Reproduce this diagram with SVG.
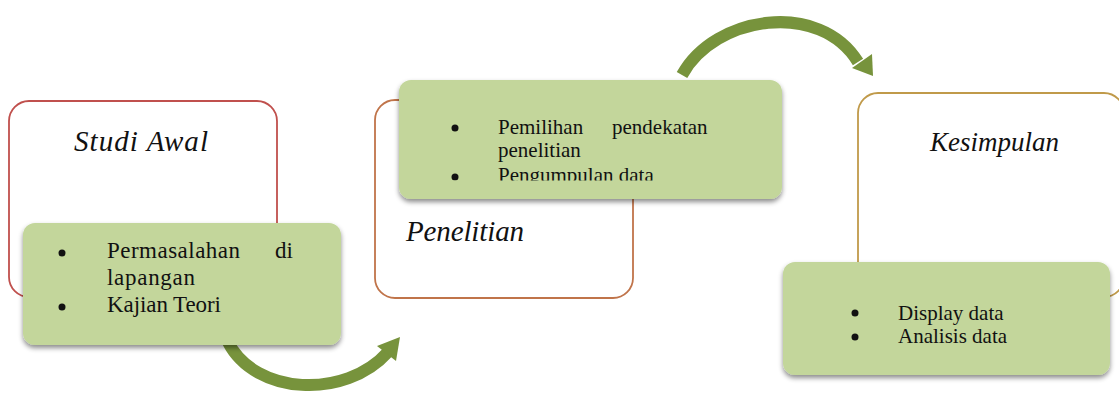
<svg xmlns="http://www.w3.org/2000/svg" width="1119" height="396" viewBox="0 0 1119 396">
<style>
.frame{fill:#ffffff;stroke-width:1.8}
.green{fill:#c3d69b;filter:url(#sh)}
.head{font-family:"Liberation Serif",serif;font-style:italic;font-size:29px;fill:#111}
.item{font-family:"Liberation Serif",serif;font-size:21px;fill:#111}
.item1{font-family:"Liberation Serif",serif;font-size:23px;fill:#111}
.dot{fill:#111}
.arc{fill:none;stroke:#77933c;stroke-width:12}
.tip{fill:#77933c}
</style>
<defs>
<filter id="sh" x="-10%" y="-10%" width="120%" height="130%">
<feDropShadow dx="0" dy="3" stdDeviation="2.5" flood-color="#000" flood-opacity="0.45"/>
</filter>
<clipPath id="clip2"><rect x="399" y="80" width="383" height="100.5"/></clipPath>
</defs>

<g id="connectors">
<path class="arc" d="M228 342 C255 395 345 400 388 352"/>
<polygon class="tip" points="400,337 377,346 396,361"/>
<path class="arc" d="M682 75 C715 15 820 0 858 62"/>
<polygon class="tip" points="873,76 852,68 872,54"/>
</g>

<g id="studi-awal">
<rect class="frame" x="9" y="101" width="268" height="196" rx="20" stroke="#c0504d"/>
<text class="head" x="74" y="151" textLength="134">Studi Awal</text>
</g>
<g id="studi-awal-items">
<rect class="green" x="23" y="223" width="318" height="122" rx="12"/>
<circle class="dot" cx="62" cy="253" r="3.5"/>
<text class="item1" x="107" y="258" textLength="133">Permasalahan</text>
<text class="item1" x="275" y="258">di</text>
<text class="item1" x="107" y="285" textLength="88">lapangan</text>
<circle class="dot" cx="62" cy="307" r="3.5"/>
<text class="item1" x="107" y="312" textLength="114">Kajian Teori</text>
</g>

<g id="penelitian">
<rect class="frame" x="375" y="100" width="258" height="198" rx="20" stroke="#c0744a"/>
<text class="head" x="406" y="241" textLength="118">Penelitian</text>
</g>
<g id="penelitian-items">
<rect class="green" x="399" y="80" width="383" height="119" rx="12"/>
<g clip-path="url(#clip2)">
<circle class="dot" cx="455" cy="128" r="3.5"/>
<text class="item" x="498" y="134">Pemilihan</text>
<text class="item" x="612" y="134">pendekatan</text>
<text class="item" x="498" y="157">penelitian</text>
<circle class="dot" cx="455" cy="177" r="3.5"/>
<text class="item" x="498" y="182">Pengumpulan data</text>
</g>
</g>

<g id="kesimpulan">
<rect class="frame" x="858" y="93" width="266" height="204" rx="20" stroke="#c09a4a"/>
<text class="head" x="930" y="151" style="font-size:27px">Kesimpulan</text>
</g>
<g id="kesimpulan-items">
<rect class="green" x="783" y="262" width="327" height="113" rx="12"/>
<circle class="dot" cx="855" cy="313" r="3.5"/>
<text class="item" x="898" y="320">Display data</text>
<circle class="dot" cx="855" cy="337" r="3.5"/>
<text class="item" x="898" y="343">Analisis data</text>
</g>
</svg>
